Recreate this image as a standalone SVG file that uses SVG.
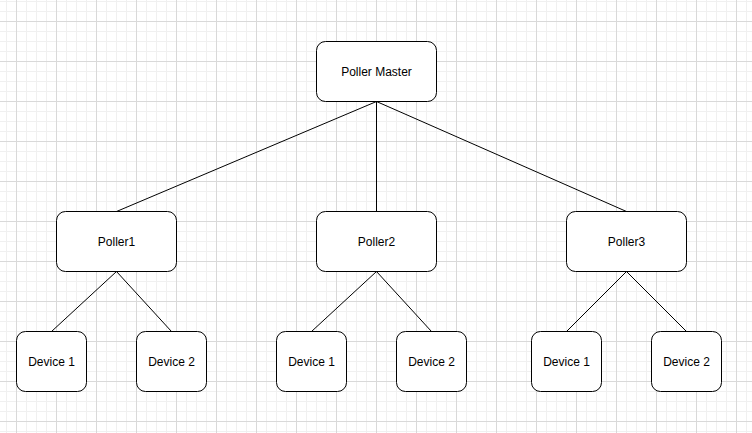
<svg xmlns="http://www.w3.org/2000/svg" width="752" height="433" viewBox="0 0 752 433">
<style>
.node rect{fill:#ffffff;stroke:#000000;stroke-width:1}
.node text{font-family:"Liberation Sans",Arial,sans-serif;font-size:12px;fill:#000000;text-anchor:middle;dominant-baseline:central}
#connectors line{stroke:#000000;stroke-width:1;fill:none}
</style>
<defs>
<pattern id="grid" patternUnits="userSpaceOnUse" x="16" y="21" width="40" height="40">
<path d="M10.5 0V40M20.5 0V40M30.5 0V40M0 10.5H40M0 20.5H40M0 30.5H40" stroke="#f0f0f0" stroke-width="1" fill="none"/>
<path d="M0.5 0V40M0 0.5H40" stroke="#d9d9d9" stroke-width="1" fill="none"/>
</pattern>
</defs>
<rect x="0" y="0" width="752" height="433" fill="#ffffff"/>
<rect x="0" y="0" width="752" height="433" fill="url(#grid)"/>
<g id="connectors">
<line x1="376.5" y1="101.5" x2="116.5" y2="211.5"/>
<line x1="376.5" y1="101.5" x2="376.5" y2="211.5"/>
<line x1="376.5" y1="101.5" x2="626.5" y2="211.5"/>
<line x1="116.5" y1="271.5" x2="51.5" y2="331.5"/>
<line x1="116.5" y1="271.5" x2="171.5" y2="331.5"/>
<line x1="376.5" y1="271.5" x2="311.5" y2="331.5"/>
<line x1="376.5" y1="271.5" x2="431.5" y2="331.5"/>
<line x1="626.5" y1="271.5" x2="566.5" y2="331.5"/>
<line x1="626.5" y1="271.5" x2="686.5" y2="331.5"/>
</g>
<g id="master" class="node"><rect x="316.5" y="41.5" width="120" height="60" rx="9"/><text x="376.5" y="71.5">Poller Master</text></g>
<g id="poller1" class="node"><rect x="56.5" y="211.5" width="120" height="60" rx="9"/><text x="116.5" y="241.5">Poller1</text></g>
<g id="poller2" class="node"><rect x="316.5" y="211.5" width="120" height="60" rx="9"/><text x="376.5" y="241.5">Poller2</text></g>
<g id="poller3" class="node"><rect x="566.5" y="211.5" width="120" height="60" rx="9"/><text x="626.5" y="241.5">Poller3</text></g>
<g id="p1d1" class="node"><rect x="16.5" y="331.5" width="70" height="60" rx="9"/><text x="51.5" y="361.5">Device 1</text></g>
<g id="p1d2" class="node"><rect x="136.5" y="331.5" width="70" height="60" rx="9"/><text x="171.5" y="361.5">Device 2</text></g>
<g id="p2d1" class="node"><rect x="276.5" y="331.5" width="70" height="60" rx="9"/><text x="311.5" y="361.5">Device 1</text></g>
<g id="p2d2" class="node"><rect x="396.5" y="331.5" width="70" height="60" rx="9"/><text x="431.5" y="361.5">Device 2</text></g>
<g id="p3d1" class="node"><rect x="531.5" y="331.5" width="70" height="60" rx="9"/><text x="566.5" y="361.5">Device 1</text></g>
<g id="p3d2" class="node"><rect x="651.5" y="331.5" width="70" height="60" rx="9"/><text x="686.5" y="361.5">Device 2</text></g>
</svg>
